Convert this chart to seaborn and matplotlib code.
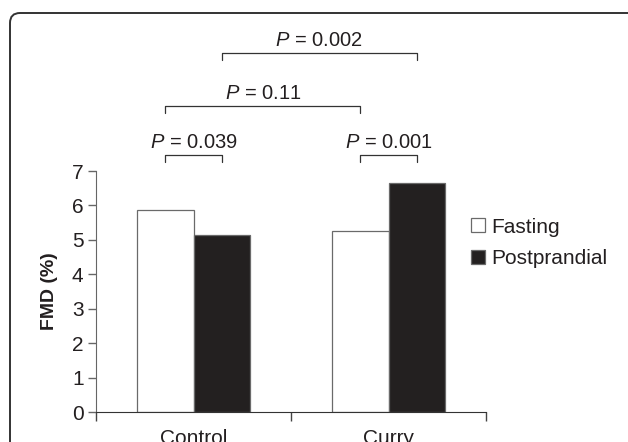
import numpy as np
import pandas as pd
import matplotlib
matplotlib.use("Agg")
import matplotlib.pyplot as plt
from matplotlib.patches import FancyBboxPatch
import seaborn as sns

groups = ["Control", "Curry"]
meals = ["Fasting", "Postprandial"]
fasting = [5.88, 5.26]
postprandial = [5.14, 6.65]
yticks = [0, 1, 2, 3, 4, 5, 6, 7]

# comparisons: ((meal, group), (meal, group), p value)
comparisons = [
    ((0, 0), (1, 0), "0.039"),
    ((0, 1), (1, 1), "0.001"),
    ((0, 0), (0, 1), "0.11"),
    ((1, 0), (1, 1), "0.002"),
]
levels = [7.46, 7.46, 8.89, 10.43]

df = pd.DataFrame({
    "group": groups * 2,
    "meal": [meals[0]] * 2 + [meals[1]] * 2,
    "fmd": fasting + postprandial,
})

sns.set_style("ticks")
plt.rcParams["font.family"] = ["Liberation Sans", "DejaVu Sans"]
plt.rcParams["mathtext.fontset"] = "custom"
plt.rcParams["mathtext.it"] = "Liberation Sans:italic"
plt.rcParams["mathtext.rm"] = "Liberation Sans"

ink = "#231f20"
fig = plt.figure(figsize=(6.28, 4.42), dpi=100)
ax = fig.add_axes([96 / 628, 30 / 442, 390 / 628, 241 / 442])

sns.barplot(data=df, x="group", y="fmd", hue="meal", palette=["white", ink],
            width=0.575, edgecolor="#6a6a6a", linewidth=0.9, ax=ax, legend=True)

ax.set_xlim(-0.5, 1.5)
ax.set_ylim(0, 7)
ax.set_yticks(yticks)
ax.set_xticks([0, 1])
ax.set_xticks([-0.5, 0.5, 1.5], minor=True)
ax.tick_params(axis="x", which="major", length=0, pad=12, labelsize=15, labelcolor=ink)
ax.tick_params(axis="x", which="minor", length=6.5, width=1, color="#444")
ax.tick_params(axis="y", length=6, width=1, color="#666", labelsize=15, labelcolor=ink, pad=3)
ax.set_xlabel("")
ax.set_ylabel("FMD (%)", fontsize=14, fontweight="bold", color=ink, labelpad=10)
sns.despine(ax=ax)
ax.spines["left"].set_color("#666")
ax.spines["bottom"].set_color("#333")

# bar centres from the drawn patches
bars = [p for p in ax.patches if p.get_height() > 0]
centres = {}
for p in bars:
    cx = p.get_x() + p.get_width() / 2
    gi = int(round(cx))
    mi = 0 if cx < gi else 1
    centres[(mi, gi)] = cx

for (a, b, lab), y in zip(comparisons, levels):
    x0, x1 = centres[a], centres[b]
    ax.plot([x0, x0, x1, x1], [y - 0.2, y, y, y - 0.2], color="#333", lw=0.9,
            clip_on=False)
    ax.text((x0 + x1) / 2, y + 0.2, r"$P$ = " + lab, ha="center", va="baseline",
            fontsize=14.5, color=ink, clip_on=False)

handles, labels = ax.get_legend_handles_labels()
ax.legend(handles, labels, loc="center left", frameon=False,
          bbox_to_anchor=(471 / 628, (442 - 243) / 442),
          bbox_transform=fig.transFigure, borderpad=0, borderaxespad=0,
          handlelength=0.65, handleheight=0.65, handletextpad=0.3,
          labelspacing=0.6, fontsize=15, labelcolor=ink)

frame = FancyBboxPatch((0.10, -1.0), 8.0, 4.29 + 1.0,
                       boxstyle="round,pad=0,rounding_size=0.1",
                       transform=fig.dpi_scale_trans, fill=False,
                       edgecolor="#333", lw=1.4, clip_on=False)
fig.patches.append(frame)

fig.savefig("out.png", dpi=100)
